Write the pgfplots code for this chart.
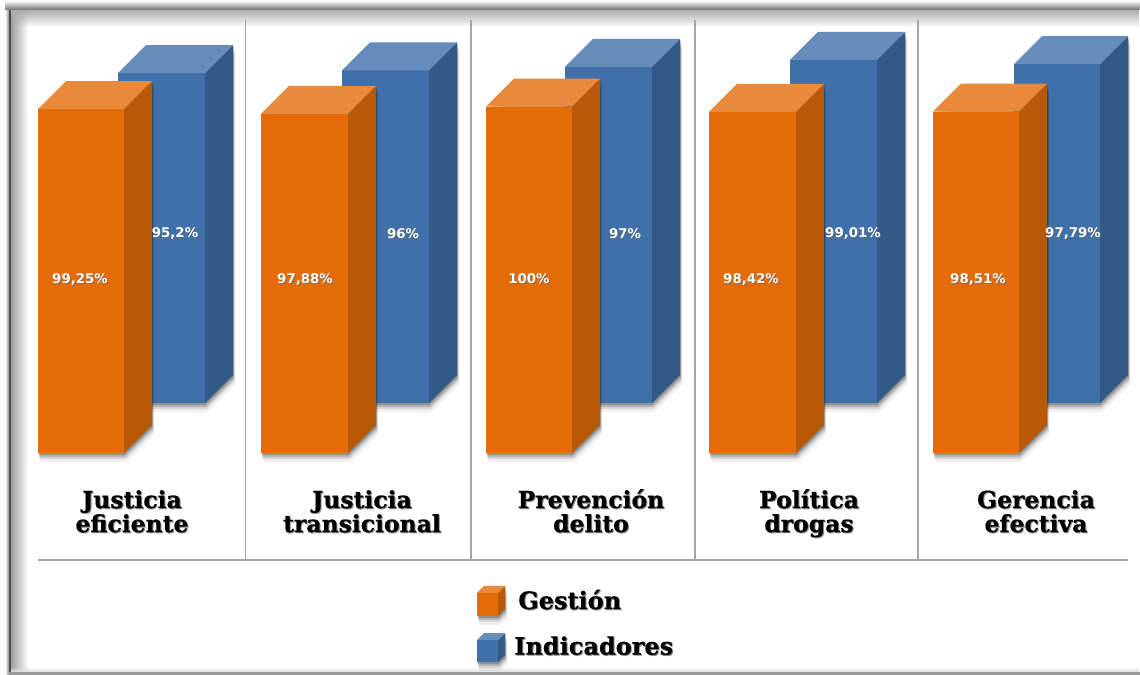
\documentclass[border=0pt]{standalone}
\usepackage{fontspec}
\usepackage{pgfplots}
\pgfplotsset{compat=1.18}
\usetikzlibrary{fadings}
\setmainfont{DejaVu Serif}[BoldFeatures={FakeBold=0.6}]
\newfontfamily\etiq{DejaVu Sans}
\definecolor{naF}{HTML}{E36C09}
\definecolor{naS}{HTML}{B75906}
\definecolor{naT}{HTML}{E98A3B}
\definecolor{azF}{HTML}{3F70AA}
\definecolor{azS}{HTML}{335A87}
\definecolor{azT}{HTML}{668CBC}
\definecolor{rejilla}{HTML}{A6A6A6}

% y axis is in percent: 3.465 px per 1 %, x axis is in picture px
\newcommand{\poly}[2]{\edef\tmp{\noexpand\addplot[#1] coordinates {#2} -- cycle;}\tmp}
\newcommand{\sombra}[7]{% k, x0, x1, base, value, depth, opacity
  \pgfmathsetmacro\sx{#1/4}
  \pgfmathsetmacro\sy{#1/3.465}
  \pgfmathsetmacro\xa{#2+\sx}
  \pgfmathsetmacro\xb{#3+\sx}
  \pgfmathsetmacro\xc{#3+#6+\sx}
  \pgfmathsetmacro\ya{#4-\sy}
  \pgfmathsetmacro\yb{#4+#6/3.465-\sy}
  \pgfmathsetmacro\yc{#4+#5-\sy}
  \pgfmathsetmacro\yd{#4+#5+#6/3.465-\sy}
  \poly{draw=none,fill=black,opacity=#7}{(\xa,\ya)(\xb,\ya)(\xc,\yb)(\xc,\yd)(\xb,\yd)(\xa,\yc)}%
}
\newcommand{\cubo}[6]{% x0, x1, base, value, depth, colour prefix
  \sombra{2}{#1}{#2}{#3}{#4}{#5}{0.20}%
  \sombra{4}{#1}{#2}{#3}{#4}{#5}{0.15}%
  \sombra{6}{#1}{#2}{#3}{#4}{#5}{0.10}%
  \sombra{9}{#1}{#2}{#3}{#4}{#5}{0.06}%
  \pgfmathsetmacro\xc{#2+#5}
  \pgfmathsetmacro\xd{#1+#5}
  \pgfmathsetmacro\yt{#3+#4}
  \pgfmathsetmacro\yb{#3+#5/3.465}
  \pgfmathsetmacro\yd{#3+#4+#5/3.465}
  \poly{draw=none,fill=#6F}{(#1,#3)(#2,#3)(#2,\yt)(#1,\yt)}%
  \poly{draw=none,fill=#6S}{(#2,#3)(\xc,\yb)(\xc,\yd)(#2,\yt)}%
  \poly{draw=none,fill=#6T}{(#1,\yt)(#2,\yt)(\xc,\yd)(\xd,\yd)}%
}
\newcommand{\etq}[3]{%
  \node[font=\etiq\bfseries\fontsize{10}{12}\selectfont,text=black!60,opacity=.7] at (axis cs:#1+1,#2-.3) {#3};
  \node[font=\etiq\bfseries\fontsize{10}{12}\selectfont,text=white] at (axis cs:#1,#2) {#3};
}
\newcommand{\linea}[3]{%
  \node[font=\bfseries\fontsize{17.6}{18.8}\selectfont,anchor=base,text=black!45] at (axis cs:#1+1,#2-.3) {#3};
  \node[font=\bfseries\fontsize{17.6}{18.8}\selectfont,anchor=base] at (axis cs:#1,#2) {#3};
}
\newcommand{\cat}[3]{\linea{#1}{-15.87}{#2}\linea{#1}{-22.8}{#3}}

\begin{document}
\begin{tikzpicture}
\begin{axis}[
  scale only axis, width=855pt, height=506.25pt,
  xmin=0, xmax=1140, ymin=-64.07, ymax=130.74,
  hide axis, clip=false]

% fondo, fija el tamano de la figura
\fill[white] (axis cs:0,-64.07) rectangle (axis cs:1140,130.74);

% marco
\fill[black!38, path fading=east] (axis cs:11,127.9) rectangle (axis cs:28,-63.2);
\fill[black!32, path fading=south] (axis cs:11,127.9) rectangle (axis cs:1140,122.9);
\shade[left color=white, right color=black!45] (axis cs:5,129) rectangle (axis cs:9,-64.07);
\fill[black!70] (axis cs:9,129) rectangle (axis cs:11,-64.07);
\shade[top color=black!8, bottom color=black!55] (axis cs:5,130.2) rectangle (axis cs:1140,127.9);
\fill[black!12, path fading=north] (axis cs:11,-61.6) rectangle (axis cs:1140,-63.2);
\fill[black!40] (axis cs:9,-63.2) rectangle (axis cs:1140,-64.07);

% rejilla
\addplot[rejilla,line width=1.1pt] coordinates {(245.5,124.96) (245.5,-30.88)};
\addplot[rejilla,line width=1.1pt] coordinates {(471,124.96) (471,-30.88)};
\addplot[rejilla,line width=1.1pt] coordinates {(695,124.96) (695,-30.88)};
\addplot[rejilla,line width=1.1pt] coordinates {(918,124.96) (918,-30.88)};
\addplot[rejilla,line width=1.1pt] coordinates {(38,-30.88) (1128,-30.88)};

% barras: Indicadores detras, Gestion delante
\cubo{118}{205}{14.43}{95.2}{28}{az}
\cubo{38}{124}{0}{99.25}{28}{na}
\cubo{342}{429}{14.43}{96}{28}{az}
\cubo{261}{348}{0}{97.88}{28}{na}
\cubo{565}{652}{14.43}{97}{28}{az}
\cubo{486}{572}{0}{100}{28}{na}
\cubo{790}{877}{14.43}{99.01}{28}{az}
\cubo{709}{796}{0}{98.42}{28}{na}
\cubo{1014}{1100}{14.43}{97.79}{28}{az}
\cubo{933}{1019}{0}{98.51}{28}{na}

% etiquetas
\etq{80}{50.2}{99,25\%}
\etq{175}{63.4}{95,2\%}
\etq{305}{50.2}{97,88\%}
\etq{403}{63.4}{96\%}
\etq{529}{50.2}{100\%}
\etq{625}{63.4}{97\%}
\etq{751}{50.2}{98,42\%}
\etq{853}{63.4}{99,01\%}
\etq{978}{50.2}{98,51\%}
\etq{1073}{63.4}{97,79\%}

\cat{132}{Justicia}{eficiente}
\cat{362}{Justicia}{transicional}
\cat{591}{Prevención}{delito}
\cat{809}{Política}{drogas}
\cat{1036}{Gerencia}{efectiva}

% leyenda
\cubo{477}{498}{-47.04}{6.64}{7}{na}
\cubo{477}{498}{-60.32}{6.35}{7}{az}
\node[font=\bfseries\fontsize{18}{18.8}\selectfont,anchor=west,inner sep=0pt,text=black!45] at (axis cs:519,-42.6) {Gestión};
\node[font=\bfseries\fontsize{18}{18.8}\selectfont,anchor=west,inner sep=0pt] at (axis cs:518,-42.3) {Gestión};
\node[font=\bfseries\fontsize{18}{18.8}\selectfont,anchor=west,inner sep=0pt,text=black!45] at (axis cs:515,-55.9) {Indicadores};
\node[font=\bfseries\fontsize{18}{18.8}\selectfont,anchor=west,inner sep=0pt] at (axis cs:514,-55.6) {Indicadores};
\end{axis}
\end{tikzpicture}
\end{document}
